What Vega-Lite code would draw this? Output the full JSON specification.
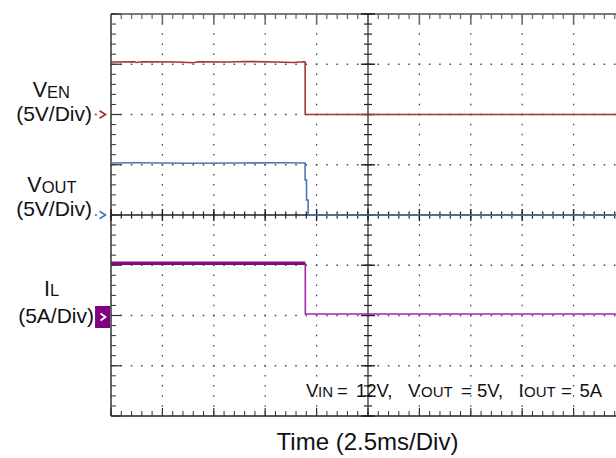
{
"$schema": "https://vega.github.io/schema/vega-lite/v6.json",
"width": 505,
"height": 402,
"autosize": {"type": "none"},
"padding": {"left": 111, "top": 14, "right": 0, "bottom": 42},
"background": "white",
"config": {"view": {"stroke": null}, "text": {"font": "Liberation Sans", "color": "#111"}},
"datasets": {
"xt": [{"v":0},{"v":0.2},{"v":0.4},{"v":0.6},{"v":0.8},{"v":1},{"v":1.2},{"v":1.4},{"v":1.6},{"v":1.8},{"v":2},{"v":2.2},{"v":2.4},{"v":2.6},{"v":2.8},{"v":3},{"v":3.2},{"v":3.4},{"v":3.6},{"v":3.8},{"v":4},{"v":4.2},{"v":4.4},{"v":4.6},{"v":4.8},{"v":5},{"v":5.2},{"v":5.4},{"v":5.6},{"v":5.8},{"v":6},{"v":6.2},{"v":6.4},{"v":6.6},{"v":6.8},{"v":7},{"v":7.2},{"v":7.4},{"v":7.6},{"v":7.8},{"v":8},{"v":8.2},{"v":8.4},{"v":8.6},{"v":8.8},{"v":9},{"v":9.2},{"v":9.4},{"v":9.6},{"v":9.8}],
"yt": [{"v":0},{"v":0.2},{"v":0.4},{"v":0.6},{"v":0.8},{"v":1},{"v":1.2},{"v":1.4},{"v":1.6},{"v":1.8},{"v":2},{"v":2.2},{"v":2.4},{"v":2.6},{"v":2.8},{"v":3},{"v":3.2},{"v":3.4},{"v":3.6},{"v":3.8},{"v":4},{"v":4.2},{"v":4.4},{"v":4.6},{"v":4.8},{"v":5},{"v":5.2},{"v":5.4},{"v":5.6},{"v":5.8},{"v":6},{"v":6.2},{"v":6.4},{"v":6.6},{"v":6.8},{"v":7},{"v":7.2},{"v":7.4},{"v":7.6},{"v":7.8},{"v":8}],
"xmaj": [{"v":0},{"v":1},{"v":2},{"v":3},{"v":4},{"v":5},{"v":6},{"v":7},{"v":8},{"v":9}],
"ymaj": [{"v":0},{"v":1},{"v":2},{"v":3},{"v":4},{"v":5},{"v":6},{"v":7},{"v":8}],
"gridx": [{"v":1},{"v":2},{"v":3},{"v":4},{"v":6},{"v":7},{"v":8},{"v":9}],
"gridy": [{"v":1},{"v":2},{"v":3},{"v":5},{"v":6},{"v":7}],
"ven": [{"t":0,"v":7.045},{"t":0.45,"v":7.05},{"t":0.5,"v":7.035},{"t":0.6,"v":7.05},{"t":1.3,"v":7.045},{"t":1.6,"v":7.03},{"t":1.7,"v":7.05},{"t":2.3,"v":7.045},{"t":2.6,"v":7.055},{"t":3.2,"v":7.045},{"t":3.55,"v":7.035},{"t":3.75,"v":7.05},{"t":3.777,"v":7.045},{"t":3.778,"v":6.0},{"t":9.825,"v":6.0}],
"vout": [{"t":0,"v":5.035},{"t":0.5,"v":5.04},{"t":1.5,"v":5.03},{"t":2.5,"v":5.035},{"t":3.4,"v":5.04},{"t":3.776,"v":5.035},{"t":3.777,"v":4.70},{"t":3.803,"v":4.70},{"t":3.804,"v":4.30},{"t":3.834,"v":4.30},{"t":3.835,"v":4.0},{"t":9.825,"v":4.0}],
"ilhi": [{"t":0,"v":3.04},{"t":3.78,"v":3.04}],
"illo": [{"t":3.78,"v":3.04},{"t":3.781,"v":2.03},{"t":9.825,"v":2.03}],
"markers": [{"name":"VEN","x":-0.165,"y":6.0},{"name":"VOUT","x":-0.165,"y":4.0},{"name":"IL","x":-0.165,"y":1.97},{"name":"ILc","x":-0.156,"y":1.97}],
"labels": [
{"kind":"main","t":"V","x":-1.245,"y":6.34},
{"kind":"main","t":"V","x":-1.348,"y":4.45},
{"kind":"main","t":"I","x":-1.187,"y":2.39},
{"kind":"sub","t":"EN","x":-1.245,"y":6.33},
{"kind":"sub","t":"OUT","x":-1.348,"y":4.44},
{"kind":"sub","t":"L","x":-1.187,"y":2.38},
{"kind":"scale","t":"(5V/Div)","x":-0.37,"y":5.88},
{"kind":"scale","t":"(5V/Div)","x":-0.37,"y":3.99},
{"kind":"scale","t":"(5A/Div)","x":-0.331,"y":1.86},
{"kind":"title","t":"Time (2.5ms/Div)","x":4.99,"y":-0.677},
{"kind":"annmain","t":"V","x":3.794,"y":0.378},
{"kind":"annmain","t":"=","x":4.397,"y":0.378},
{"kind":"annmain","t":"12V,","x":4.767,"y":0.378},
{"kind":"annmain","t":"V","x":5.778,"y":0.378},
{"kind":"annmain","t":"=","x":6.809,"y":0.378},
{"kind":"annmain","t":"5V,","x":7.121,"y":0.378},
{"kind":"annmain","t":"I","x":7.928,"y":0.378},
{"kind":"annmain","t":"=","x":8.755,"y":0.378},
{"kind":"annmain","t":"5A","x":9.115,"y":0.378},
{"kind":"annsub","t":"IN","x":4.027,"y":0.378},
{"kind":"annsub","t":"OUT","x":6.031,"y":0.378},
{"kind":"annsub","t":"OUT","x":8.035,"y":0.378}
]
},
"layer": [
{"data":{"name":"gridx"},"mark":{"type":"rule","color":"#444","strokeWidth":1.3,"strokeDash":[1.5,8.55],"strokeDashOffset":0.75},
 "encoding":{"x":{"field":"v","type":"quantitative","scale":{"domain":[0,9.825],"nice":false,"zero":false},"axis":null},
 "y":{"datum":8,"type":"quantitative","scale":{"domain":[0,8],"nice":false,"zero":false},"axis":null},"y2":{"datum":0}}},
{"data":{"name":"gridy"},"mark":{"type":"rule","color":"#444","strokeWidth":1.3,"strokeDash":[1.5,8.78],"strokeDashOffset":0.75},
 "encoding":{"y":{"field":"v","type":"quantitative","scale":{"domain":[0,8],"nice":false,"zero":false},"axis":null},
 "x":{"datum":0,"type":"quantitative","scale":{"domain":[0,9.825],"nice":false,"zero":false},"axis":null},"x2":{"datum":9.825}}},
{"data":{"name":"xmaj"},"transform":[{"filter":"datum.v == 5"}],"mark":{"type":"rule","color":"#222","strokeWidth":1.2},
 "encoding":{"x":{"field":"v","type":"quantitative","scale":{"domain":[0,9.825],"nice":false,"zero":false},"axis":null},
 "y":{"datum":8,"type":"quantitative","scale":{"domain":[0,8],"nice":false,"zero":false},"axis":null},"y2":{"datum":0}}},
{"data":{"name":"ymaj"},"transform":[{"filter":"datum.v == 4 || datum.v == 0"}],"mark":{"type":"rule","color":"#222","strokeWidth":1.3},
 "encoding":{"y":{"field":"v","type":"quantitative","scale":{"domain":[0,8],"nice":false,"zero":false},"axis":null},
 "x":{"datum":0,"type":"quantitative","scale":{"domain":[0,9.825],"nice":false,"zero":false},"axis":null},"x2":{"datum":9.825}}},
{"data":{"name":"ymaj"},"transform":[{"filter":"datum.v == 8"}],"mark":{"type":"rule","color":"#7a7a7a","strokeWidth":2},
 "encoding":{"y":{"field":"v","type":"quantitative","scale":{"domain":[0,8],"nice":false,"zero":false},"axis":null},
 "x":{"datum":0,"type":"quantitative","scale":{"domain":[0,9.825],"nice":false,"zero":false},"axis":null},"x2":{"datum":9.825}}},
{"data":{"name":"xmaj"},"transform":[{"filter":"datum.v == 0"}],"mark":{"type":"rule","color":"#333","strokeWidth":1.5},
 "encoding":{"x":{"field":"v","type":"quantitative","scale":{"domain":[0,9.825],"nice":false,"zero":false},"axis":null},
 "y":{"datum":8,"type":"quantitative","scale":{"domain":[0,8],"nice":false,"zero":false},"axis":null},"y2":{"datum":0}}},
{"data":{"name":"xt"},"mark":{"type":"rule","strokeWidth":1.2,"color":"#666"},
 "encoding":{"x":{"field":"v","type":"quantitative","scale":{"domain":[0,9.825],"nice":false,"zero":false},"axis":null},
 "y":{"datum":8,"type":"quantitative","scale":{"domain":[0,8],"nice":false,"zero":false},"axis":null},"y2":{"datum":7.9}}},
{"data":{"name":"xmaj"},"mark":{"type":"rule","strokeWidth":1.5,"color":"#666"},
 "encoding":{"x":{"field":"v","type":"quantitative","scale":{"domain":[0,9.825],"nice":false,"zero":false},"axis":null},
 "y":{"datum":8,"type":"quantitative","scale":{"domain":[0,8],"nice":false,"zero":false},"axis":null},"y2":{"datum":7.8}}},
{"data":{"name":"xt"},"mark":{"type":"rule","strokeWidth":1,"color":"#333"},
 "encoding":{"x":{"field":"v","type":"quantitative","scale":{"domain":[0,9.825],"nice":false,"zero":false},"axis":null},
 "y":{"datum":0,"type":"quantitative","scale":{"domain":[0,8],"nice":false,"zero":false},"axis":null},"y2":{"datum":0.1}}},
{"data":{"name":"xmaj"},"mark":{"type":"rule","strokeWidth":1.2,"color":"#333"},
 "encoding":{"x":{"field":"v","type":"quantitative","scale":{"domain":[0,9.825],"nice":false,"zero":false},"axis":null},
 "y":{"datum":0,"type":"quantitative","scale":{"domain":[0,8],"nice":false,"zero":false},"axis":null},"y2":{"datum":0.16}}},
{"data":{"name":"yt"},"mark":{"type":"rule","strokeWidth":1,"color":"#333"},
 "encoding":{"y":{"field":"v","type":"quantitative","scale":{"domain":[0,8],"nice":false,"zero":false},"axis":null},
 "x":{"datum":0,"type":"quantitative","scale":{"domain":[0,9.825],"nice":false,"zero":false},"axis":null},"x2":{"datum":0.0973}}},
{"data":{"name":"ymaj"},"mark":{"type":"rule","strokeWidth":1.2,"color":"#333"},
 "encoding":{"y":{"field":"v","type":"quantitative","scale":{"domain":[0,8],"nice":false,"zero":false},"axis":null},
 "x":{"datum":0,"type":"quantitative","scale":{"domain":[0,9.825],"nice":false,"zero":false},"axis":null},"x2":{"datum":0.195}}},
{"data":{"name":"xt"},"mark":{"type":"rule","strokeWidth":1.2,"color":"#222"},
 "encoding":{"x":{"field":"v","type":"quantitative","scale":{"domain":[0,9.825],"nice":false,"zero":false},"axis":null},
 "y":{"datum":3.93,"type":"quantitative","scale":{"domain":[0,8],"nice":false,"zero":false},"axis":null},"y2":{"datum":4.07}}},
{"data":{"name":"xmaj"},"mark":{"type":"rule","strokeWidth":1.4,"color":"#222"},
 "encoding":{"x":{"field":"v","type":"quantitative","scale":{"domain":[0,9.825],"nice":false,"zero":false},"axis":null},
 "y":{"datum":3.88,"type":"quantitative","scale":{"domain":[0,8],"nice":false,"zero":false},"axis":null},"y2":{"datum":4.12}}},
{"data":{"name":"yt"},"mark":{"type":"rule","strokeWidth":1.2,"color":"#222"},
 "encoding":{"y":{"field":"v","type":"quantitative","scale":{"domain":[0,8],"nice":false,"zero":false},"axis":null},
 "x":{"datum":4.922,"type":"quantitative","scale":{"domain":[0,9.825],"nice":false,"zero":false},"axis":null},"x2":{"datum":5.078}}},
{"data":{"name":"ymaj"},"mark":{"type":"rule","strokeWidth":1.4,"color":"#222"},
 "encoding":{"y":{"field":"v","type":"quantitative","scale":{"domain":[0,8],"nice":false,"zero":false},"axis":null},
 "x":{"datum":4.864,"type":"quantitative","scale":{"domain":[0,9.825],"nice":false,"zero":false},"axis":null},"x2":{"datum":5.136}}},
{"data":{"name":"ven"},"mark":{"type":"line","color":"#a3363a","strokeWidth":1.6,"clip":true},
 "encoding":{"x":{"field":"t","type":"quantitative","scale":{"domain":[0,9.825],"nice":false,"zero":false},"axis":null},
 "y":{"field":"v","type":"quantitative","scale":{"domain":[0,8],"nice":false,"zero":false},"axis":null}}},
{"data":{"name":"vout"},"mark":{"type":"line","color":"#4a78b5","strokeWidth":1.6,"clip":true},
 "encoding":{"x":{"field":"t","type":"quantitative","scale":{"domain":[0,9.825],"nice":false,"zero":false},"axis":null},
 "y":{"field":"v","type":"quantitative","scale":{"domain":[0,8],"nice":false,"zero":false},"axis":null}}},
{"data":{"name":"illo"},"mark":{"type":"line","color":"#a02aa6","strokeWidth":1.6,"clip":true},
 "encoding":{"x":{"field":"t","type":"quantitative","scale":{"domain":[0,9.825],"nice":false,"zero":false},"axis":null},
 "y":{"field":"v","type":"quantitative","scale":{"domain":[0,8],"nice":false,"zero":false},"axis":null}}},
{"data":{"name":"ilhi"},"mark":{"type":"line","color":"#7e0c80","strokeWidth":3.4,"clip":true},
 "encoding":{"x":{"field":"t","type":"quantitative","scale":{"domain":[0,9.825],"nice":false,"zero":false},"axis":null},
 "y":{"field":"v","type":"quantitative","scale":{"domain":[0,8],"nice":false,"zero":false},"axis":null}}},
{"data":{"name":"markers"},"transform":[{"filter":"datum.name == 'VEN'"}],"mark":{"type":"point","shape":"M-2.1,0L-1.5,0M-0.8,-1L0.8,0L-0.8,1","size":56,"filled":false,"stroke":"#b02a2a","strokeWidth":1.6,"opacity":1},
 "encoding":{"x":{"field":"x","type":"quantitative","scale":{"domain":[0,9.825],"nice":false,"zero":false},"axis":null},
 "y":{"field":"y","type":"quantitative","scale":{"domain":[0,8],"nice":false,"zero":false},"axis":null}}},
{"data":{"name":"markers"},"transform":[{"filter":"datum.name == 'VOUT'"}],"mark":{"type":"point","shape":"M-2.1,0L-1.5,0M-0.8,-1L0.8,0L-0.8,1","size":56,"filled":false,"stroke":"#3f74b8","strokeWidth":1.6,"opacity":1},
 "encoding":{"x":{"field":"x","type":"quantitative","scale":{"domain":[0,9.825],"nice":false,"zero":false},"axis":null},
 "y":{"field":"y","type":"quantitative","scale":{"domain":[0,8],"nice":false,"zero":false},"axis":null}}},
{"data":{"name":"markers"},"transform":[{"filter":"datum.name == 'IL'"}],"mark":{"type":"point","shape":"M-0.68,-1L0.68,-1L0.68,1L-0.68,1Z","size":484,"filled":true,"fill":"#800080","strokeWidth":0,"opacity":1},
 "encoding":{"x":{"field":"x","type":"quantitative","scale":{"domain":[0,9.825],"nice":false,"zero":false},"axis":null},
 "y":{"field":"y","type":"quantitative","scale":{"domain":[0,8],"nice":false,"zero":false},"axis":null}}},
{"data":{"name":"markers"},"transform":[{"filter":"datum.name == 'ILc'"}],"mark":{"type":"point","shape":"M-0.7,-1L0.7,0L-0.7,1","size":49,"filled":false,"stroke":"white","strokeWidth":1.8,"opacity":1},
 "encoding":{"x":{"field":"x","type":"quantitative","scale":{"domain":[0,9.825],"nice":false,"zero":false},"axis":null},
 "y":{"field":"y","type":"quantitative","scale":{"domain":[0,8],"nice":false,"zero":false},"axis":null}}},
{"data":{"name":"labels"},"transform":[{"filter":"datum.kind == 'main'"}],"mark":{"type":"text","fontSize":21.5,"align":"right","baseline":"alphabetic"},
 "encoding":{"x":{"field":"x","type":"quantitative","scale":{"domain":[0,9.825],"nice":false,"zero":false},"axis":null},
 "y":{"field":"y","type":"quantitative","scale":{"domain":[0,8],"nice":false,"zero":false},"axis":null},"text":{"field":"t"}}},
{"data":{"name":"labels"},"transform":[{"filter":"datum.kind == 'sub'"}],"mark":{"type":"text","fontSize":16.5,"align":"left","baseline":"alphabetic"},
 "encoding":{"x":{"field":"x","type":"quantitative","scale":{"domain":[0,9.825],"nice":false,"zero":false},"axis":null},
 "y":{"field":"y","type":"quantitative","scale":{"domain":[0,8],"nice":false,"zero":false},"axis":null},"text":{"field":"t"}}},
{"data":{"name":"labels"},"transform":[{"filter":"datum.kind == 'scale'"}],"mark":{"type":"text","fontSize":21,"align":"right","baseline":"alphabetic"},
 "encoding":{"x":{"field":"x","type":"quantitative","scale":{"domain":[0,9.825],"nice":false,"zero":false},"axis":null},
 "y":{"field":"y","type":"quantitative","scale":{"domain":[0,8],"nice":false,"zero":false},"axis":null},"text":{"field":"t"}}},
{"data":{"name":"labels"},"transform":[{"filter":"datum.kind == 'title'"}],"mark":{"type":"text","fontSize":24,"align":"center","baseline":"alphabetic"},
 "encoding":{"x":{"field":"x","type":"quantitative","scale":{"domain":[0,9.825],"nice":false,"zero":false},"axis":null},
 "y":{"field":"y","type":"quantitative","scale":{"domain":[0,8],"nice":false,"zero":false},"axis":null},"text":{"field":"t"}}},
{"data":{"name":"labels"},"transform":[{"filter":"datum.kind == 'annmain'"}],"mark":{"type":"text","fontSize":18.5,"align":"left","baseline":"alphabetic"},
 "encoding":{"x":{"field":"x","type":"quantitative","scale":{"domain":[0,9.825],"nice":false,"zero":false},"axis":null},
 "y":{"field":"y","type":"quantitative","scale":{"domain":[0,8],"nice":false,"zero":false},"axis":null},"text":{"field":"t"}}},
{"data":{"name":"labels"},"transform":[{"filter":"datum.kind == 'annsub'"}],"mark":{"type":"text","fontSize":15,"align":"left","baseline":"alphabetic"},
 "encoding":{"x":{"field":"x","type":"quantitative","scale":{"domain":[0,9.825],"nice":false,"zero":false},"axis":null},
 "y":{"field":"y","type":"quantitative","scale":{"domain":[0,8],"nice":false,"zero":false},"axis":null},"text":{"field":"t"}}}
]
}
